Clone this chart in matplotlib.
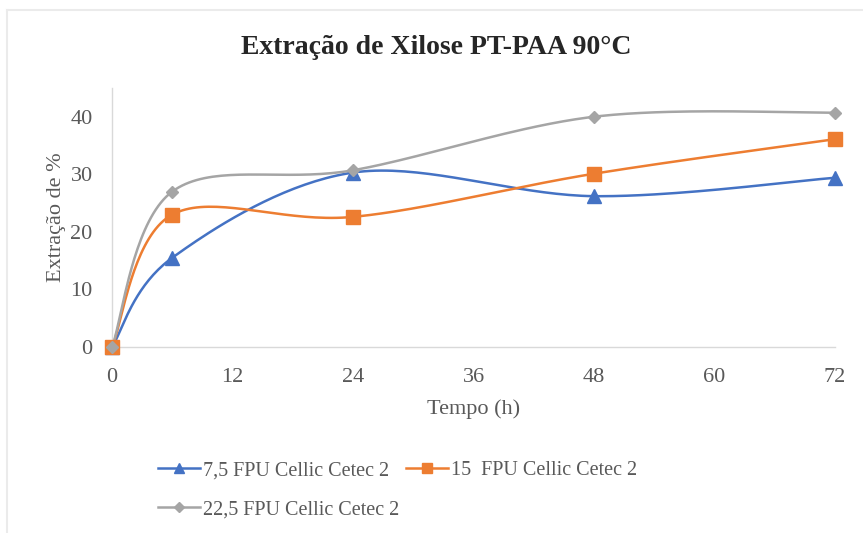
import numpy as np
import matplotlib
matplotlib.use("Agg")
import matplotlib.pyplot as plt
from matplotlib.lines import Line2D

tempo = [0, 6, 24, 48, 72]
s75 = [0, 15.5, 30.3, 26.2, 29.4]
s15 = [0, 23.0, 22.6, 30.1, 36.1]
s225 = [0, 27.0, 30.7, 40.0, 40.7]
labels = ["7,5 FPU Cellic Cetec 2", "15  FPU Cellic Cetec 2", "22,5 FPU Cellic Cetec 2"]
xticks = [0, 12, 24, 36, 48, 60, 72]
yticks = [0, 10, 20, 30, 40]

plt.rcParams['font.family'] = ['Liberation Serif', 'DejaVu Serif']


def smooth(x, y, n=40):
    # Excel-like smoothed line (cubic Bezier, Catmull-Rom control points)
    x = np.asarray(x, float); y = np.asarray(y, float)
    P = np.column_stack([x, y])
    out = []
    for i in range(len(P) - 1):
        p0 = P[i - 1] if i > 0 else P[i]
        p1 = P[i]; p2 = P[i + 1]
        p3 = P[i + 2] if i + 2 < len(P) else P[i + 1]
        c1 = p1 + (p2 - p0) / 6.0
        c2 = p2 - (p3 - p1) / 6.0
        t = np.linspace(0, 1, n)[:, None]
        seg = ((1 - t) ** 3) * p1 + 3 * ((1 - t) ** 2) * t * c1 + 3 * (1 - t) * t ** 2 * c2 + t ** 3 * p2
        out.append(seg if i == 0 else seg[1:])
    S = np.vstack(out)
    return S[:, 0], S[:, 1]


fig = plt.figure(figsize=(8.63, 5.33), dpi=100)
ax = fig.add_axes([0.1298, 0.349, 0.9676 - 0.1298, 0.835 - 0.349])

colors = ['#4472C4', '#ED7D31', '#A5A5A5']
markers = ['^', 's', 'D']
msizes = [10, 10.5, 6.5]
handles = []
for ys, c, m, ms, lab in zip([s75, s15, s225], colors, markers, msizes, labels):
    sx, sy = smooth(tempo, ys)
    ax.plot(sx, sy, color=c, lw=1.8, zorder=2, clip_on=False)
    ax.plot(tempo, ys, linestyle='none', marker=m, ms=ms, color=c, zorder=3, clip_on=False)
    h = Line2D([], [], color=c, lw=1.8, marker=m, ms=ms * 0.75, label=lab)
    handles.append(h)

ax.set_xlim(0, 72)
ax.set_ylim(0, 45)
ax.set_xticks(xticks)
ax.set_yticks(yticks)
ax.tick_params(axis='y', length=0, labelsize=16, colors='#595959', pad=14)
ax.tick_params(axis='x', length=0, labelsize=16, colors='#595959', pad=15)
for sp in ['top', 'right']:
    ax.spines[sp].set_visible(False)
for sp in ['left', 'bottom']:
    ax.spines[sp].set_color('#D9D9D9')
    ax.spines[sp].set_linewidth(1.0)
ax.set_xlabel('Tempo (h)', fontsize=16, color='#595959', labelpad=9)
ax.set_ylabel('Extração de %', fontsize=16, color='#595959', labelpad=3)
fig.text(0.506, 0.91, 'Extração de Xilose PT-PAA 90°C', ha='center', va='center',
         fontsize=20, fontweight='bold', color='#262626')

order = [handles[0], handles[2], handles[1]]
fig.legend(order, [h.get_label() for h in order], ncol=2, frameon=False,
           loc='upper left', bbox_to_anchor=(0.183, 0.135), fontsize=14.5,
           labelcolor='#595959', handlelength=2.1, columnspacing=0.3,
           handletextpad=0.15, labelspacing=1.0, borderaxespad=0, borderpad=0)

fig.add_artist(Line2D([7 / 863, 7 / 863], [0, 1 - 10 / 533], transform=fig.transFigure,
                      color='#EBEBEB', lw=1.5))
fig.add_artist(Line2D([7 / 863, 1], [1 - 10 / 533, 1 - 10 / 533], transform=fig.transFigure,
                      color='#EBEBEB', lw=1.5))
fig.savefig('out.png', dpi=100)
